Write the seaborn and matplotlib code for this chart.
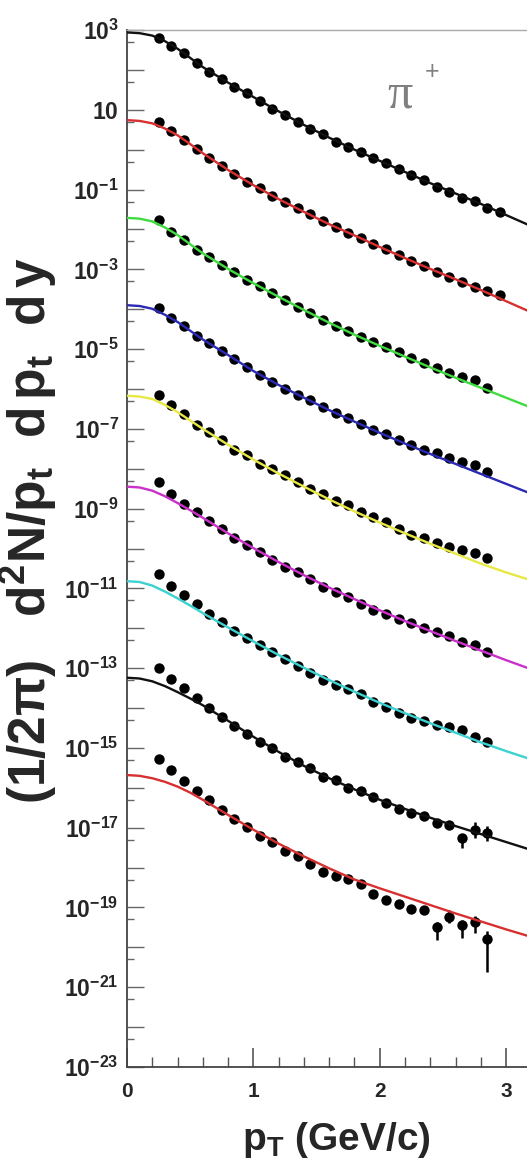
import numpy as np
import pandas as pd
import seaborn as sns
import matplotlib.pyplot as plt
from matplotlib.ticker import FixedLocator, FuncFormatter

# values are log10 of (1/2pi) d2N/pt dpt dy

# pT of the data points
pt_long = [0.25, 0.35, 0.45, 0.55, 0.65, 0.75, 0.85, 0.95, 1.05, 1.15, 1.25, 1.35, 1.45, 1.55,
           1.65, 1.75, 1.85, 1.95, 2.05, 2.15, 2.25, 2.35, 2.45, 2.55, 2.65, 2.75, 2.85, 2.95]
pt_short = pt_long[:-1]

# pT where the model curves are sampled
pt_curve = [0.0, 0.1, 0.2, 0.3, 0.4, 0.5, 0.6, 0.8, 1.0, 1.2, 1.4, 1.6, 1.8, 2.0,
            2.2, 2.4, 2.6, 2.8, 3.0, 3.2]

# data points, top to bottom
pts1 = [2.79, 2.61, 2.42, 2.17, 1.95, 1.77, 1.58, 1.41, 1.22, 1.02, 0.87, 0.70, 0.53, 0.38,
        0.20, 0.07, -0.05, -0.22, -0.34, -0.49, -0.64, -0.76, -0.93, -1.05, -1.20, -1.29, -1.47, -1.57]
pts2 = [0.69, 0.47, 0.24, 0.02, -0.20, -0.41, -0.62, -0.80, -0.97, -1.15, -1.30, -1.46, -1.62, -1.79,
        -1.95, -2.08, -2.22, -2.37, -2.50, -2.64, -2.79, -2.92, -3.06, -3.19, -3.31, -3.44, -3.55, -3.65]
pts3 = [-1.76, -2.06, -2.27, -2.52, -2.69, -2.89, -3.08, -3.27, -3.41, -3.60, -3.77, -3.94, -4.10, -4.27,
        -4.42, -4.55, -4.69, -4.83, -4.94, -5.08, -5.23, -5.36, -5.48, -5.59, -5.69, -5.78, -5.98]
pts4 = [-3.96, -4.23, -4.42, -4.67, -4.86, -5.05, -5.25, -5.45, -5.65, -5.82, -5.99, -6.14, -6.28, -6.45,
        -6.61, -6.74, -6.89, -7.03, -7.14, -7.28, -7.41, -7.53, -7.61, -7.74, -7.84, -7.91, -8.09]
pts5 = [-6.15, -6.40, -6.64, -6.91, -7.07, -7.28, -7.53, -7.66, -7.87, -8.01, -8.16, -8.33, -8.51, -8.64,
        -8.81, -8.91, -9.08, -9.20, -9.33, -9.50, -9.66, -9.73, -9.87, -9.96, -10.04, -10.12, -10.25]
pts6 = [-8.34, -8.64, -8.89, -9.09, -9.31, -9.51, -9.73, -9.91, -10.10, -10.29, -10.46, -10.58, -10.77, -10.96,
        -11.09, -11.21, -11.38, -11.54, -11.63, -11.77, -11.88, -11.99, -12.10, -12.19, -12.34, -12.42, -12.60]
pts7 = [-10.65, -10.93, -11.17, -11.40, -11.65, -11.85, -12.07, -12.25, -12.42, -12.60, -12.77, -12.94, -13.11, -13.30,
        -13.42, -13.53, -13.66, -13.84, -13.97, -14.13, -14.26, -14.33, -14.43, -14.47, -14.54, -14.73, -14.85]
pts8 = [-12.99, -13.27, -13.51, -13.76, -13.99, -14.22, -14.45, -14.66, -14.86, -15.00, -15.22, -15.36, -15.51, -15.72,
        -15.81, -16.00, -16.08, -16.23, -16.37, -16.52, -16.62, -16.70, -16.89, -16.94, -17.25, -17.06, -17.14]
pts9 = [-15.28, -15.56, -15.83, -16.08, -16.31, -16.56, -16.79, -16.98, -17.20, -17.35, -17.59, -17.71, -17.90, -18.11,
        -18.21, -18.29, -18.42, -18.65, -18.82, -18.92, -19.03, -19.07, -19.48, -19.23, -19.44, -19.36, -19.78]

# error bars (in decades) for the last points of the two lowest sets
err8_pt = [2.65, 2.75, 2.85]
err8_lo = [0.25, 0.20, 0.20]
err8_hi = [0.08, 0.20, 0.18]
err9_pt = [2.45, 2.55, 2.65, 2.75, 2.85]
err9_lo = [0.33, 0.17, 0.33, 0.28, 0.84]
err9_hi = [0.12, 0.17, 0.12, 0.15, 0.20]

# model curves
crv1 = [2.94, 2.92, 2.86, 2.72, 2.53, 2.30, 2.07, 1.68, 1.32, 0.96, 0.62, 0.30, 0.00, -0.28,
        -0.56, -0.84, -1.10, -1.36, -1.64, -1.92]
crv2 = [0.74, 0.72, 0.66, 0.53, 0.36, 0.14, -0.09, -0.51, -0.89, -1.24, -1.56, -1.87, -2.15, -2.44,
        -2.72, -2.99, -3.25, -3.52, -3.80, -4.08]
crv3 = [-1.71, -1.73, -1.80, -1.95, -2.14, -2.37, -2.60, -2.99, -3.35, -3.69, -4.02, -4.34, -4.64, -4.92,
        -5.19, -5.46, -5.72, -5.97, -6.22, -6.47]
crv4 = [-3.90, -3.92, -3.99, -4.14, -4.32, -4.54, -4.76, -5.15, -5.55, -5.90, -6.22, -6.53, -6.82, -7.10,
        -7.37, -7.63, -7.88, -8.13, -8.38, -8.63]
crv5 = [-6.17, -6.19, -6.25, -6.40, -6.58, -6.79, -7.00, -7.40, -7.77, -8.12, -8.45, -8.77, -9.07, -9.35,
        -9.62, -9.88, -10.13, -10.38, -10.60, -10.80]
crv6 = [-8.45, -8.47, -8.55, -8.69, -8.86, -9.04, -9.23, -9.62, -9.99, -10.34, -10.67, -10.98, -11.27, -11.55,
        -11.82, -12.07, -12.32, -12.56, -12.80, -13.03]
crv7 = [-10.82, -10.84, -10.93, -11.08, -11.25, -11.43, -11.62, -11.98, -12.33, -12.67, -12.99, -13.30, -13.59, -13.87,
        -14.13, -14.38, -14.62, -14.86, -15.08, -15.29]
crv8 = [-13.24, -13.26, -13.33, -13.45, -13.60, -13.76, -13.93, -14.32, -14.72, -15.10, -15.45, -15.76, -16.04, -16.30,
        -16.53, -16.75, -16.96, -17.16, -17.36, -17.56]
crv9 = [-15.68, -15.70, -15.76, -15.85, -15.97, -16.12, -16.30, -16.68, -17.05, -17.40, -17.72, -18.02, -18.30, -18.52,
        -18.73, -18.94, -19.15, -19.35, -19.55, -19.74]

curve_colors = ["#111111", "#d83030", "#3fdc3f", "#2a2ab4", "#e8e845", "#cc30cc", "#3cd2d2", "#111111", "#d83030"]

all_pts = [pts1, pts2, pts3, pts4, pts5, pts6, pts7, pts8, pts9]
all_crv = [crv1, crv2, crv3, crv4, crv5, crv6, crv7, crv8, crv9]

rows = []
for i, p in enumerate(all_pts):
    xs = pt_long if len(p) == len(pt_long) else pt_short
    for x, v in zip(xs, p):
        rows.append({"set": i, "pt": x, "y": 10.0 ** v})
df_pts = pd.DataFrame(rows)

rows = []
for i, c in enumerate(all_crv):
    for x, v in zip(pt_curve, c):
        rows.append({"set": "c%d" % i, "pt": x, "y": 10.0 ** v})
df_crv = pd.DataFrame(rows)
pal = {"c%d" % i: col for i, col in enumerate(curve_colors)}

sns.set_style("ticks")
plt.rcParams["font.family"] = ["Liberation Sans", "DejaVu Sans"]
plt.rcParams["mathtext.fontset"] = "custom"
plt.rcParams["mathtext.rm"] = "Liberation Sans"
plt.rcParams["mathtext.it"] = "Liberation Sans:italic"
plt.rcParams["mathtext.bf"] = "Liberation Sans:bold"

fig = plt.figure(figsize=(5.27, 11.67), dpi=100)
ax = fig.add_axes([127 / 527, 1 - 1067 / 1167, 400 / 527, 1037 / 1167])
ax.set_yscale("log")

sns.scatterplot(data=df_pts, x="pt", y="y", color="black", s=56, linewidth=0,
                ax=ax, zorder=3, legend=False)
for xs, lo, hi, p in [(err8_pt, err8_lo, err8_hi, pts8), (err9_pt, err9_lo, err9_hi, pts9)]:
    yv = np.array([10.0 ** p[pt_short.index(x)] for x in xs])
    ax.errorbar(xs, yv, yerr=[yv - yv / 10.0 ** np.array(lo), yv * 10.0 ** np.array(hi) - yv],
                fmt="none", ecolor="black", elinewidth=1.8, capsize=0, zorder=3)
sns.lineplot(data=df_crv, x="pt", y="y", hue="set", palette=pal, estimator=None,
             linewidth=1.7, ax=ax, zorder=4, legend=False)

ax.set_xlim(0, 3.165)
ax.set_ylim(1e-23, 1e3)

# axes look
for s in ["left", "bottom"]:
    ax.spines[s].set_color("#444444")
    ax.spines[s].set_linewidth(1.3)
ax.spines["top"].set_color("#aaaaaa")
ax.spines["top"].set_linewidth(1.0)
ax.spines["right"].set_visible(False)

ax.set_xticks([0, 1, 2, 3])
ax.set_xticks(np.arange(0, 3.2, 0.2), minor=True)
ax.set_xticklabels(["0", "1", "2", "3"], fontsize=15, fontweight="bold")
ax.tick_params(axis="x", which="major", direction="in", length=14, width=1.2, color="#555555", pad=11)
ax.tick_params(axis="x", which="minor", direction="in", length=7, width=1.0, color="#555555")

exps = list(range(-23, 4))
ax.yaxis.set_major_locator(FixedLocator([10.0 ** k for k in exps]))
ax.yaxis.set_minor_locator(FixedLocator([5 * 10.0 ** k for k in range(-24, 3)]))


def ylab(v, pos):
    k = int(round(np.log10(v)))
    if k % 2 == 0:
        return ""
    if k == 1:
        return r"$\mathbf{10}$"
    return r"$\mathbf{10^{%d}}$" % k


ax.yaxis.set_major_formatter(FuncFormatter(ylab))
ax.yaxis.set_minor_formatter(FuncFormatter(lambda v, p: ""))
ax.tick_params(axis="y", which="major", direction="in", length=12, width=1.0, color="#666666",
               pad=6, labelsize=16.5)
ax.tick_params(axis="y", which="minor", direction="in", length=5, width=1.0, color="#666666")
ax.set_xlabel("")
ax.set_ylabel("")

# particle label
ax.text(2.16, 10 ** 1.37, "\u03c0", fontsize=36, color="#808080", family="Liberation Serif",
        ha="center", va="center")
ax.text(2.415, 10 ** 1.95, "+", fontsize=18, color="#808080", ha="center", va="center")

fig.text(336 / 527, 1 - 1140 / 1167, r"$\mathbf{p_T}$ (GeV/c)", fontsize=28, fontweight="bold",
         ha="center", va="center")
fig.text(29 / 527, 1 - 530 / 1167,
         r"$\mathbf{(1/2\pi)\quad d^2N/p_t\ \ d\,p_t\ \ d\,y}$", fontsize=37,
         rotation=90, ha="center", va="center")

fig.savefig("out.png", dpi=100)
